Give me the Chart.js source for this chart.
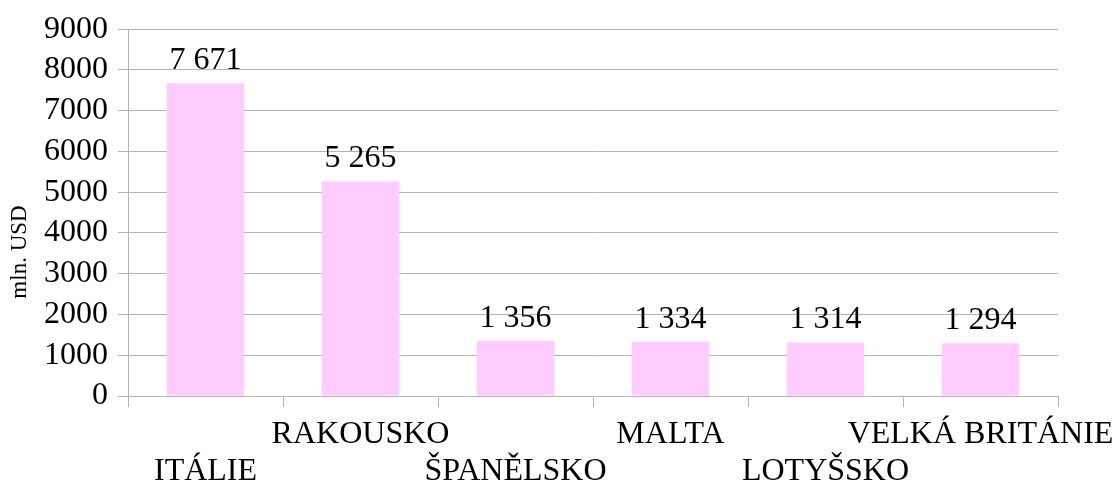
<!DOCTYPE html>
<html>
<head>
<meta charset="utf-8">
<script src="https://cdn.jsdelivr.net/npm/chart.js@4/dist/chart.umd.min.js"></script>
<style>
  html, body { margin: 0; padding: 0; background: #ffffff; }
  #wrap { width: 1112px; height: 486px; }
</style>
</head>
<body>
<div id="wrap"><canvas id="c" width="1112" height="486"></canvas></div>
<script>
const categories = ['ITÁLIE', 'RAKOUSKO', 'ŠPANĚLSKO', 'MALTA', 'LOTYŠSKO', 'VELKÁ BRITÁNIE'];
const values = [7671, 5265, 1356, 1334, 1314, 1294];
const yTicks = [0, 1000, 2000, 3000, 4000, 5000, 6000, 7000, 8000, 9000];
const yTitle = 'mln. USD';

const FONT = '"Liberation Serif", "Times New Roman", serif';
const GRID = '#b3b3b3';

// staggered labels: even indices on the second row, odd on the first
const staggered = categories.map((c, i) => i % 2 === 0 ? ['', c] : [c, '']);

function fmt(v) {
  return String(v).replace(/\B(?=(\d{3})+(?!\d))/g, ' ');
}

const valueLabels = {
  id: 'valueLabels',
  afterDatasetsDraw(chart) {
    const ctx = chart.ctx;
    const meta = chart.getDatasetMeta(0);
    ctx.save();
    ctx.font = '32px ' + FONT;
    ctx.fillStyle = '#000000';
    ctx.textAlign = 'center';
    ctx.textBaseline = 'alphabetic';
    meta.data.forEach((bar, i) => {
      ctx.fillText(fmt(values[i]), bar.x, bar.y - 14);
    });
    ctx.restore();
  }
};

const sideTitle = {
  id: 'sideTitle',
  afterDraw(chart) {
    const ctx = chart.ctx;
    ctx.save();
    ctx.font = '23px ' + FONT;
    ctx.fillStyle = '#000000';
    ctx.textAlign = 'center';
    ctx.textBaseline = 'middle';
    ctx.translate(20, 252);
    ctx.rotate(-Math.PI / 2);
    ctx.fillText(yTitle, 0, 0);
    ctx.restore();
  }
};

new Chart(document.getElementById('c'), {
  type: 'bar',
  data: {
    labels: staggered,
    datasets: [{
      data: values,
      backgroundColor: '#ffccff',
      borderWidth: 0,
      categoryPercentage: 1.0,
      barPercentage: 0.5
    }]
  },
  options: {
    responsive: false,
    animation: false,
    devicePixelRatio: 1,
    layout: { padding: { left: 34, right: 0, top: 18, bottom: 0 } },
    plugins: {
      legend: { display: false },
      tooltip: { enabled: false },
      title: { display: false }
    },
    scales: {
      x: {
        offset: true,
        afterFit: (s) => { s.height = 90; s.paddingRight = 54; s.paddingLeft = 0; },
        grid: {
          offset: true,
          drawOnChartArea: true,
          color: (c) => (c.index === categories.length ? GRID : 'rgba(0,0,0,0)'),
          tickColor: GRID,
          tickLength: 11,
          lineWidth: 1
        },
        border: { display: true, color: GRID, width: 1 },
        ticks: {
          autoSkip: false,
          maxRotation: 0,
          minRotation: 0,
          color: '#000000',
          padding: 9,
          font: { family: FONT, size: 32, lineHeight: 1.15 }
        }
      },
      y: {
        min: 0,
        max: 9000,
        afterBuildTicks: (axis) => { axis.ticks = yTicks.map(v => ({ value: v })); },
        grid: {
          color: GRID,
          tickColor: GRID,
          tickLength: 10,
          lineWidth: 1
        },
        border: { display: true, color: GRID, width: 1 },
        ticks: {
          autoSkip: false,
          color: '#000000',
          padding: 10,
          font: { family: FONT, size: 32 },
          callback: (v) => String(v)
        }
      }
    }
  },
  plugins: [valueLabels, sideTitle]
});
</script>
</body>
</html>
